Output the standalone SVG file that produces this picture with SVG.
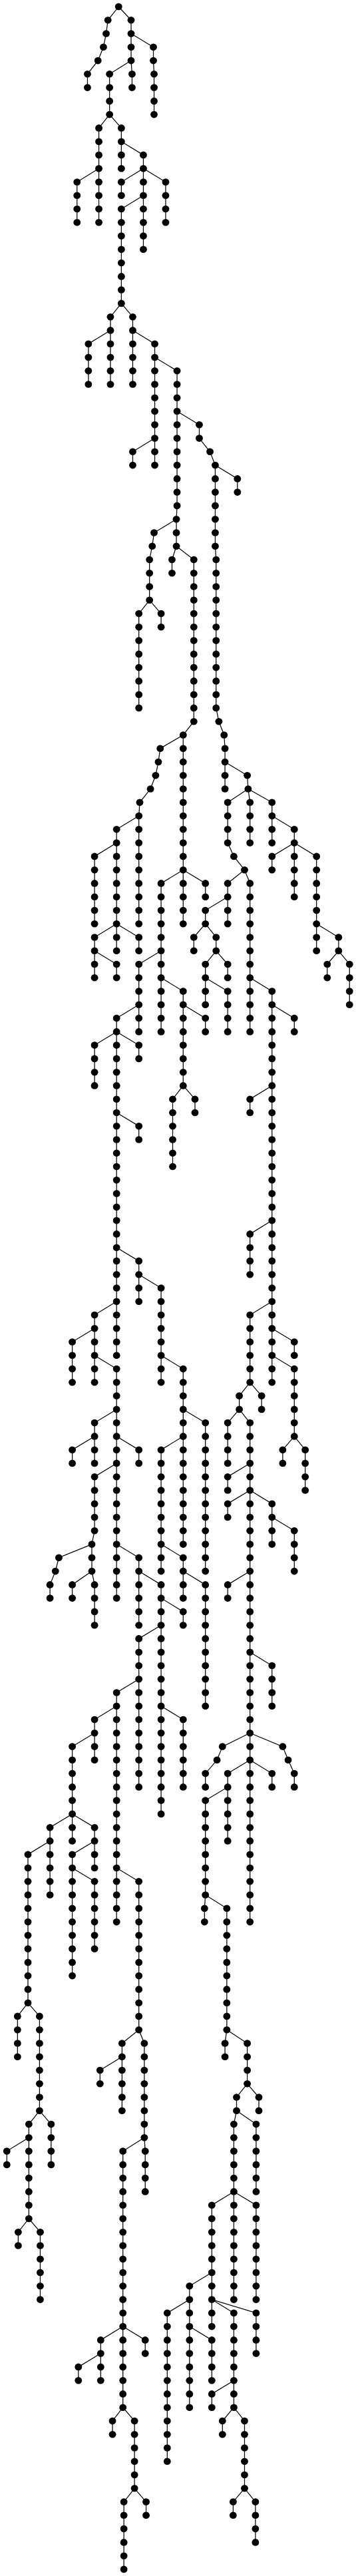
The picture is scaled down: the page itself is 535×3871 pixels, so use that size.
<svg xmlns="http://www.w3.org/2000/svg" width="535" height="3871" viewBox="0 0 535 3871">
<style>
circle{r:5.3px;fill:#000}
#connectors path{fill:none;stroke:#000;stroke-width:1.2}
</style>
<rect width="535" height="3871" fill="#fff"/>
<g id="connectors" transform="scale(1.0245 1)">
<path d="M174 10L158.3 30.3L155.7 50.5L151.7 70.8L143.7 91.1L128.3 111.3V131.6"/>
<path d="M174 10L192.3 30.3V91.1"/>
<path d="M192.3 50.5L225 70.8V91.1L226 111.3V172.1"/>
<path d="M192.3 91.1L193.7 111.3V131.6"/>
<path d="M192.3 91.1L160.7 111.3V172.1"/>
<path d="M160.7 172.1L145 192.4V334.3"/>
<path d="M145 253.2L113 273.5V334.3"/>
<path d="M160.7 172.1L178 192.4V253.2"/>
<path d="M178 212.7L210.3 232.9V374.8"/>
<path d="M210.3 253.2L178 273.5V293.8"/>
<path d="M210.3 253.2L243 273.5V334.3"/>
<path d="M210.3 293.8L178 314V455.9"/>
<path d="M178 455.9L162 476.2V577.5"/>
<path d="M162 496.4L129.7 516.7V577.5"/>
<path d="M178 455.9L194.7 476.2V577.5"/>
<path d="M194.7 496.4L227 516.7V699.1"/>
<path d="M227 658.6L194.7 678.8V699.1"/>
<path d="M227 537L259.7 557.2V759.9L258.7 780.2V820.7"/>
<path d="M258.7 780.2L226 800.5L223.3 820.7L219.3 841V901.8"/>
<path d="M219.3 901.8L203.7 922.1V1063.9"/>
<path d="M219.3 901.8L236.3 922.1V942.3"/>
<path d="M258.7 820.7L252.3 841V861.3"/>
<path d="M258.7 820.7L284.3 841V1084.2L268.7 1104.5V1388.2"/>
<path d="M259.7 618L292.3 638.3V658.6L308 678.8L315.7 699.1V820.7L317 841V1063.9L321 1084.2L328.7 1104.5L330 1124.7V1185.5"/>
<path d="M315.7 699.1L348.3 719.4V739.6"/>
<path d="M330 1145L362.7 1165.3L364 1185.5"/>
<path d="M364 1185.5L334 1205.8V1266.6L343 1286.9L358.7 1307.2"/>
<path d="M364 1185.5L366.7 1205.8V1266.6"/>
<path d="M364 1185.5L399 1205.8V1266.6"/>
<path d="M399 1226.1L431.7 1246.3V1266.6"/>
<path d="M431.7 1266.6L399 1286.9V1307.2"/>
<path d="M431.7 1266.6V1347.7"/>
<path d="M431.7 1266.6L464.3 1286.9V1428.8"/>
<path d="M464.3 1388.2L496.7 1408.5V1428.8"/>
<path d="M496.7 1428.8L480 1449V1469.3"/>
<path d="M496.7 1428.8L512.7 1449V1509.8"/>
<path d="M358.7 1307.2L334 1327.4V1388.2"/>
<path d="M334 1347.7L301.3 1368V1388.2"/>
<path d="M301.3 1388.2L284.3 1408.5V1428.8"/>
<path d="M301.3 1388.2L317 1408.5V1428.8"/>
<path d="M317 1428.8L334 1449V1469.3"/>
<path d="M317 1428.8L301.3 1449V1509.8"/>
<path d="M301.3 1469.3L334 1489.6V1550.4"/>
<path d="M358.7 1307.2L366.7 1327.4V1550.4"/>
<path d="M366.7 1469.3L399 1489.6V2077.3"/>
<path d="M399 1509.8L431.7 1530.1V1550.4"/>
<path d="M399 1631.4L366.7 1651.7V1672"/>
<path d="M399 1834.1L366.7 1854.4V1915.2"/>
<path d="M399 1955.7L366.7 1976V2077.3"/>
<path d="M399 1996.3L431.7 2016.5V2036.8"/>
<path d="M399 2036.8L431.7 2057.1V2158.4"/>
<path d="M431.7 2158.4L414.7 2178.7V2198.9"/>
<path d="M431.7 2158.4L447.7 2178.7V2239.5"/>
<path d="M366.7 2077.3L383.7 2097.6V2117.9"/>
<path d="M366.7 2077.3L351 2097.6V2117.9"/>
<path d="M351 2117.9L334 2138.1V2198.9"/>
<path d="M351 2117.9L366.7 2138.1V2888.1"/>
<path d="M366.7 2198.9L334 2219.2V2239.5"/>
<path d="M366.7 2239.5L334 2259.7V2280"/>
<path d="M366.7 2239.5L399 2259.7V2320.6"/>
<path d="M399 2280L431.7 2300.3V2361.1"/>
<path d="M366.7 2361.1L334 2381.4V2401.6"/>
<path d="M366.7 2482.7L399 2503V2563.8"/>
<path d="M366.7 2604.3L326.3 2624.6L318.3 2644.8L301.3 2665.1V2685.4"/>
<path d="M366.7 2604.3L414.7 2624.6L422.7 2644.8L431.7 2665.1V2685.4"/>
<path d="M366.7 2644.8L399 2665.1V2685.4"/>
<path d="M366.7 2644.8L334 2665.1V2766.4"/>
<path d="M334 2685.4L301.3 2705.6V2847.5"/>
<path d="M301.3 2847.5L300 2867.8V2888.1"/>
<path d="M301.3 2847.5L332.7 2867.8V3050.2"/>
<path d="M332.7 3050.2L330 3070.5V3090.7"/>
<path d="M332.7 3050.2L362.7 3070.5V3131.3"/>
<path d="M362.7 3131.3L379.7 3151.5V3171.8"/>
<path d="M362.7 3131.3L347 3151.5V3171.8"/>
<path d="M347 3171.8L375.7 3192.1V3293.4"/>
<path d="M347 3171.8L343 3192.1V3455.6"/>
<path d="M343 3293.4L375.7 3313.7V3455.6"/>
<path d="M343 3293.4L310.7 3313.7V3496.1"/>
<path d="M310.7 3415L278 3435.3V3617.7"/>
<path d="M278 3455.6L245.3 3475.8V3698.8"/>
<path d="M278 3496.1L310.7 3516.4V3577.2"/>
<path d="M310.7 3455.6L375.7 3475.8V3536.6"/>
<path d="M310.7 3455.6L343 3475.8V3617.7"/>
<path d="M343 3577.2L310.7 3597.4V3617.7"/>
<path d="M343 3617.7L326.3 3638V3658.2"/>
<path d="M343 3617.7L358.7 3638V3739.3"/>
<path d="M358.7 3739.3L342 3759.6V3779.8"/>
<path d="M358.7 3739.3L374.7 3759.6V3820.4"/>
<path d="M268.7 1104.5L235 1124.7L232.3 1145L228.3 1165.3L220.7 1185.5L205 1205.8L203.7 1226.1V1388.2"/>
<path d="M203.7 1226.1L171 1246.3V1428.8"/>
<path d="M171 1266.6L138.7 1286.9V1388.2"/>
<path d="M171 1388.2L203.7 1408.5V1428.8"/>
<path d="M171 1388.2L138.7 1408.5V1469.3"/>
<path d="M138.7 1428.8L171 1449V1469.3"/>
<path d="M268.7 1307.2L301.3 1327.4V1347.7"/>
<path d="M268.7 1307.2L236.3 1327.4V1550.4"/>
<path d="M236.3 1428.8L203.7 1449V1550.4"/>
<path d="M236.3 1469.3L268.7 1489.6V1631.4"/>
<path d="M268.7 1509.8L301.3 1530.1V1550.4"/>
<path d="M268.7 1631.4L253.3 1651.7V1753"/>
<path d="M268.7 1631.4L286 1651.7V1672"/>
<path d="M203.7 1509.8L171 1530.1V2036.8"/>
<path d="M171 1550.4L138.7 1570.6V1631.4"/>
<path d="M171 1550.4L203.7 1570.6V1590.9"/>
<path d="M171 1672L203.7 1692.2V1712.5"/>
<path d="M171 1874.7L203.7 1894.9V1955.7"/>
<path d="M203.7 1915.2L236.3 1935.5V2077.3"/>
<path d="M236.3 2036.8L268.7 2057.1V2320.6"/>
<path d="M268.7 2117.9L301.3 2138.1V2361.1"/>
<path d="M268.7 2158.4L236.3 2178.7V2361.1"/>
<path d="M236.3 2320.6L268.7 2340.8V2401.6"/>
<path d="M268.7 2361.1L301.3 2381.4V2563.8"/>
<path d="M171 1955.7L138.7 1976V2077.3"/>
<path d="M138.7 1996.3L106 2016.5V2077.3"/>
<path d="M138.7 2036.8L171 2057.1V2401.6"/>
<path d="M171 2117.9L138.7 2138.1V2198.9"/>
<path d="M138.7 2158.4L106 2178.7V2198.9"/>
<path d="M171 2158.4L203.7 2178.7V2198.9"/>
<path d="M171 2198.9L138.7 2219.2V2300.3L134.7 2320.6V2361.1"/>
<path d="M134.7 2320.6L86.3 2340.8L81.3 2361.1L73.3 2381.4V2401.6"/>
<path d="M134.7 2361.1L106 2381.4V2401.6"/>
<path d="M134.7 2361.1L138.7 2381.4V2442.2"/>
<path d="M171 2320.6L203.7 2340.8V2442.2"/>
<path d="M203.7 2361.1L236.3 2381.4V2725.9"/>
<path d="M236.3 2401.6L268.7 2421.9V2442.2"/>
<path d="M236.3 2442.2L203.7 2462.4V2685.4"/>
<path d="M236.3 2563.8L268.7 2584V2685.4"/>
<path d="M203.7 2523.2L171 2543.5V2888.1"/>
<path d="M171 2563.8L138.7 2584V2644.8"/>
<path d="M138.7 2604.3L106 2624.6V2766.4"/>
<path d="M106 2725.9L73.3 2746.2V2847.5"/>
<path d="M73.3 2766.4L41 2786.7V3009.7"/>
<path d="M41 3009.7L25.7 3029.9V3090.7"/>
<path d="M41 3009.7L58 3029.9V3171.8"/>
<path d="M58 3171.8L75 3192.1V3252.9"/>
<path d="M58 3171.8L42.3 3192.1V3334"/>
<path d="M42.3 3212.3L10 3232.6V3252.9"/>
<path d="M42.3 3334L26.7 3354.2V3374.5"/>
<path d="M42.3 3334L59 3354.2V3455.6"/>
<path d="M106 2725.9L138.7 2746.2V2807"/>
<path d="M138.7 2766.4L106 2786.7V2969.1"/>
<path d="M106 2807L138.7 2827.3V2928.6"/>
<path d="M171 2807L203.7 2827.3V3050.2"/>
<path d="M203.7 3050.2L179 3070.5V3171.8"/>
<path d="M179 3090.7L146.7 3111V3131.3"/>
<path d="M203.7 3050.2L211.7 3070.5V3212.3"/>
<path d="M211.7 3212.3L213 3232.6V3293.4"/>
<path d="M211.7 3212.3L180.3 3232.6V3617.7"/>
<path d="M180.3 3496.1L213 3516.4V3536.6"/>
<path d="M180.3 3496.1L147.7 3516.4V3577.2"/>
<path d="M147.7 3536.6L115 3556.9V3577.2"/>
<path d="M180.3 3617.7L165 3638V3658.2"/>
<path d="M180.3 3617.7L197.3 3638V3739.3"/>
<path d="M197.3 3739.3L214.3 3759.6V3779.8"/>
<path d="M197.3 3739.3L181.7 3759.6V3860.9"/>
</g>
<g id="nodes" transform="scale(1.0245 1)">
<g id="n0_174"><circle cx="174" cy="10"/></g>
<g id="n1_158"><circle cx="158.3" cy="30.3"/></g>
<g id="n2_155"><circle cx="155.7" cy="50.5"/></g>
<g id="n3_151"><circle cx="151.7" cy="70.8"/></g>
<g id="n4_143"><circle cx="143.7" cy="91.1"/></g>
<g id="n5_128"><circle cx="128.3" cy="111.3"/></g>
<g id="n6_128"><circle cx="128.3" cy="131.6"/></g>
<g id="n1_192"><circle cx="192.3" cy="30.3"/></g>
<g id="n2_192"><circle cx="192.3" cy="50.5"/></g>
<g id="n3_192"><circle cx="192.3" cy="70.8"/></g>
<g id="n4_192"><circle cx="192.3" cy="91.1"/></g>
<g id="n3_225"><circle cx="225" cy="70.8"/></g>
<g id="n4_225"><circle cx="225" cy="91.1"/></g>
<g id="n5_226"><circle cx="226" cy="111.3"/></g>
<g id="n6_226"><circle cx="226" cy="131.6"/></g>
<g id="n7_226"><circle cx="226" cy="151.9"/></g>
<g id="n8_226"><circle cx="226" cy="172.1"/></g>
<g id="n5_193"><circle cx="193.7" cy="111.3"/></g>
<g id="n6_193"><circle cx="193.7" cy="131.6"/></g>
<g id="n5_160"><circle cx="160.7" cy="111.3"/></g>
<g id="n6_160"><circle cx="160.7" cy="131.6"/></g>
<g id="n7_160"><circle cx="160.7" cy="151.9"/></g>
<g id="n8_160"><circle cx="160.7" cy="172.1"/></g>
<g id="n9_145"><circle cx="145" cy="192.4"/></g>
<g id="n10_145"><circle cx="145" cy="212.7"/></g>
<g id="n11_145"><circle cx="145" cy="232.9"/></g>
<g id="n12_145"><circle cx="145" cy="253.2"/></g>
<g id="n13_145"><circle cx="145" cy="273.5"/></g>
<g id="n14_145"><circle cx="145" cy="293.8"/></g>
<g id="n15_145"><circle cx="145" cy="314"/></g>
<g id="n16_145"><circle cx="145" cy="334.3"/></g>
<g id="n13_113"><circle cx="113" cy="273.5"/></g>
<g id="n14_113"><circle cx="113" cy="293.8"/></g>
<g id="n15_113"><circle cx="113" cy="314"/></g>
<g id="n16_113"><circle cx="113" cy="334.3"/></g>
<g id="n9_178"><circle cx="178" cy="192.4"/></g>
<g id="n10_178"><circle cx="178" cy="212.7"/></g>
<g id="n11_178"><circle cx="178" cy="232.9"/></g>
<g id="n12_178"><circle cx="178" cy="253.2"/></g>
<g id="n11_210"><circle cx="210.3" cy="232.9"/></g>
<g id="n12_210"><circle cx="210.3" cy="253.2"/></g>
<g id="n13_210"><circle cx="210.3" cy="273.5"/></g>
<g id="n14_210"><circle cx="210.3" cy="293.8"/></g>
<g id="n15_210"><circle cx="210.3" cy="314"/></g>
<g id="n16_210"><circle cx="210.3" cy="334.3"/></g>
<g id="n17_210"><circle cx="210.3" cy="354.6"/></g>
<g id="n18_210"><circle cx="210.3" cy="374.8"/></g>
<g id="n13_178"><circle cx="178" cy="273.5"/></g>
<g id="n14_178"><circle cx="178" cy="293.8"/></g>
<g id="n13_243"><circle cx="243" cy="273.5"/></g>
<g id="n14_243"><circle cx="243" cy="293.8"/></g>
<g id="n15_243"><circle cx="243" cy="314"/></g>
<g id="n16_243"><circle cx="243" cy="334.3"/></g>
<g id="n15_178"><circle cx="178" cy="314"/></g>
<g id="n16_178"><circle cx="178" cy="334.3"/></g>
<g id="n17_178"><circle cx="178" cy="354.6"/></g>
<g id="n18_178"><circle cx="178" cy="374.8"/></g>
<g id="n19_178"><circle cx="178" cy="395.1"/></g>
<g id="n20_178"><circle cx="178" cy="415.4"/></g>
<g id="n21_178"><circle cx="178" cy="435.6"/></g>
<g id="n22_178"><circle cx="178" cy="455.9"/></g>
<g id="n23_162"><circle cx="162" cy="476.2"/></g>
<g id="n24_162"><circle cx="162" cy="496.4"/></g>
<g id="n25_162"><circle cx="162" cy="516.7"/></g>
<g id="n26_162"><circle cx="162" cy="537"/></g>
<g id="n27_162"><circle cx="162" cy="557.2"/></g>
<g id="n28_162"><circle cx="162" cy="577.5"/></g>
<g id="n25_129"><circle cx="129.7" cy="516.7"/></g>
<g id="n26_129"><circle cx="129.7" cy="537"/></g>
<g id="n27_129"><circle cx="129.7" cy="557.2"/></g>
<g id="n28_129"><circle cx="129.7" cy="577.5"/></g>
<g id="n23_194"><circle cx="194.7" cy="476.2"/></g>
<g id="n24_194"><circle cx="194.7" cy="496.4"/></g>
<g id="n25_194"><circle cx="194.7" cy="516.7"/></g>
<g id="n26_194"><circle cx="194.7" cy="537"/></g>
<g id="n27_194"><circle cx="194.7" cy="557.2"/></g>
<g id="n28_194"><circle cx="194.7" cy="577.5"/></g>
<g id="n25_227"><circle cx="227" cy="516.7"/></g>
<g id="n26_227"><circle cx="227" cy="537"/></g>
<g id="n27_227"><circle cx="227" cy="557.2"/></g>
<g id="n28_227"><circle cx="227" cy="577.5"/></g>
<g id="n29_227"><circle cx="227" cy="597.8"/></g>
<g id="n30_227"><circle cx="227" cy="618"/></g>
<g id="n31_227"><circle cx="227" cy="638.3"/></g>
<g id="n32_227"><circle cx="227" cy="658.6"/></g>
<g id="n33_227"><circle cx="227" cy="678.8"/></g>
<g id="n34_227"><circle cx="227" cy="699.1"/></g>
<g id="n33_194"><circle cx="194.7" cy="678.8"/></g>
<g id="n34_194"><circle cx="194.7" cy="699.1"/></g>
<g id="n27_259"><circle cx="259.7" cy="557.2"/></g>
<g id="n28_259"><circle cx="259.7" cy="577.5"/></g>
<g id="n29_259"><circle cx="259.7" cy="597.8"/></g>
<g id="n30_259"><circle cx="259.7" cy="618"/></g>
<g id="n31_259"><circle cx="259.7" cy="638.3"/></g>
<g id="n32_259"><circle cx="259.7" cy="658.6"/></g>
<g id="n33_259"><circle cx="259.7" cy="678.8"/></g>
<g id="n34_259"><circle cx="259.7" cy="699.1"/></g>
<g id="n35_259"><circle cx="259.7" cy="719.4"/></g>
<g id="n36_259"><circle cx="259.7" cy="739.6"/></g>
<g id="n37_259"><circle cx="259.7" cy="759.9"/></g>
<g id="n38_258"><circle cx="258.7" cy="780.2"/></g>
<g id="n39_258"><circle cx="258.7" cy="800.5"/></g>
<g id="n40_258"><circle cx="258.7" cy="820.7"/></g>
<g id="n39_226"><circle cx="226" cy="800.5"/></g>
<g id="n40_223"><circle cx="223.3" cy="820.7"/></g>
<g id="n41_219"><circle cx="219.3" cy="841"/></g>
<g id="n42_219"><circle cx="219.3" cy="861.3"/></g>
<g id="n43_219"><circle cx="219.3" cy="881.5"/></g>
<g id="n44_219"><circle cx="219.3" cy="901.8"/></g>
<g id="n45_203"><circle cx="203.7" cy="922.1"/></g>
<g id="n46_203"><circle cx="203.7" cy="942.3"/></g>
<g id="n47_203"><circle cx="203.7" cy="962.6"/></g>
<g id="n48_203"><circle cx="203.7" cy="982.9"/></g>
<g id="n49_203"><circle cx="203.7" cy="1003.1"/></g>
<g id="n50_203"><circle cx="203.7" cy="1023.4"/></g>
<g id="n51_203"><circle cx="203.7" cy="1043.7"/></g>
<g id="n52_203"><circle cx="203.7" cy="1063.9"/></g>
<g id="n45_236"><circle cx="236.3" cy="922.1"/></g>
<g id="n46_236"><circle cx="236.3" cy="942.3"/></g>
<g id="n41_252"><circle cx="252.3" cy="841"/></g>
<g id="n42_252"><circle cx="252.3" cy="861.3"/></g>
<g id="n41_284"><circle cx="284.3" cy="841"/></g>
<g id="n42_284"><circle cx="284.3" cy="861.3"/></g>
<g id="n43_284"><circle cx="284.3" cy="881.5"/></g>
<g id="n44_284"><circle cx="284.3" cy="901.8"/></g>
<g id="n45_284"><circle cx="284.3" cy="922.1"/></g>
<g id="n46_284"><circle cx="284.3" cy="942.3"/></g>
<g id="n47_284"><circle cx="284.3" cy="962.6"/></g>
<g id="n48_284"><circle cx="284.3" cy="982.9"/></g>
<g id="n49_284"><circle cx="284.3" cy="1003.1"/></g>
<g id="n50_284"><circle cx="284.3" cy="1023.4"/></g>
<g id="n51_284"><circle cx="284.3" cy="1043.7"/></g>
<g id="n52_284"><circle cx="284.3" cy="1063.9"/></g>
<g id="n53_284"><circle cx="284.3" cy="1084.2"/></g>
<g id="n54_268"><circle cx="268.7" cy="1104.5"/></g>
<g id="n55_268"><circle cx="268.7" cy="1124.7"/></g>
<g id="n56_268"><circle cx="268.7" cy="1145"/></g>
<g id="n57_268"><circle cx="268.7" cy="1165.3"/></g>
<g id="n58_268"><circle cx="268.7" cy="1185.5"/></g>
<g id="n59_268"><circle cx="268.7" cy="1205.8"/></g>
<g id="n60_268"><circle cx="268.7" cy="1226.1"/></g>
<g id="n61_268"><circle cx="268.7" cy="1246.3"/></g>
<g id="n62_268"><circle cx="268.7" cy="1266.6"/></g>
<g id="n63_268"><circle cx="268.7" cy="1286.9"/></g>
<g id="n64_268"><circle cx="268.7" cy="1307.2"/></g>
<g id="n65_268"><circle cx="268.7" cy="1327.4"/></g>
<g id="n66_268"><circle cx="268.7" cy="1347.7"/></g>
<g id="n67_268"><circle cx="268.7" cy="1368"/></g>
<g id="n68_268"><circle cx="268.7" cy="1388.2"/></g>
<g id="n31_292"><circle cx="292.3" cy="638.3"/></g>
<g id="n32_292"><circle cx="292.3" cy="658.6"/></g>
<g id="n33_308"><circle cx="308" cy="678.8"/></g>
<g id="n34_315"><circle cx="315.7" cy="699.1"/></g>
<g id="n35_315"><circle cx="315.7" cy="719.4"/></g>
<g id="n36_315"><circle cx="315.7" cy="739.6"/></g>
<g id="n37_315"><circle cx="315.7" cy="759.9"/></g>
<g id="n38_315"><circle cx="315.7" cy="780.2"/></g>
<g id="n39_315"><circle cx="315.7" cy="800.5"/></g>
<g id="n40_315"><circle cx="315.7" cy="820.7"/></g>
<g id="n41_317"><circle cx="317" cy="841"/></g>
<g id="n42_317"><circle cx="317" cy="861.3"/></g>
<g id="n43_317"><circle cx="317" cy="881.5"/></g>
<g id="n44_317"><circle cx="317" cy="901.8"/></g>
<g id="n45_317"><circle cx="317" cy="922.1"/></g>
<g id="n46_317"><circle cx="317" cy="942.3"/></g>
<g id="n47_317"><circle cx="317" cy="962.6"/></g>
<g id="n48_317"><circle cx="317" cy="982.9"/></g>
<g id="n49_317"><circle cx="317" cy="1003.1"/></g>
<g id="n50_317"><circle cx="317" cy="1023.4"/></g>
<g id="n51_317"><circle cx="317" cy="1043.7"/></g>
<g id="n52_317"><circle cx="317" cy="1063.9"/></g>
<g id="n53_321"><circle cx="321" cy="1084.2"/></g>
<g id="n54_328"><circle cx="328.7" cy="1104.5"/></g>
<g id="n55_330"><circle cx="330" cy="1124.7"/></g>
<g id="n56_330"><circle cx="330" cy="1145"/></g>
<g id="n57_330"><circle cx="330" cy="1165.3"/></g>
<g id="n58_330"><circle cx="330" cy="1185.5"/></g>
<g id="n35_348"><circle cx="348.3" cy="719.4"/></g>
<g id="n36_348"><circle cx="348.3" cy="739.6"/></g>
<g id="n57_362"><circle cx="362.7" cy="1165.3"/></g>
<g id="n58_364"><circle cx="364" cy="1185.5"/></g>
<g id="n59_334"><circle cx="334" cy="1205.8"/></g>
<g id="n60_334"><circle cx="334" cy="1226.1"/></g>
<g id="n61_334"><circle cx="334" cy="1246.3"/></g>
<g id="n62_334"><circle cx="334" cy="1266.6"/></g>
<g id="n63_343"><circle cx="343" cy="1286.9"/></g>
<g id="n64_358"><circle cx="358.7" cy="1307.2"/></g>
<g id="n59_366"><circle cx="366.7" cy="1205.8"/></g>
<g id="n60_366"><circle cx="366.7" cy="1226.1"/></g>
<g id="n61_366"><circle cx="366.7" cy="1246.3"/></g>
<g id="n62_366"><circle cx="366.7" cy="1266.6"/></g>
<g id="n59_399"><circle cx="399" cy="1205.8"/></g>
<g id="n60_399"><circle cx="399" cy="1226.1"/></g>
<g id="n61_399"><circle cx="399" cy="1246.3"/></g>
<g id="n62_399"><circle cx="399" cy="1266.6"/></g>
<g id="n61_431"><circle cx="431.7" cy="1246.3"/></g>
<g id="n62_431"><circle cx="431.7" cy="1266.6"/></g>
<g id="n63_399"><circle cx="399" cy="1286.9"/></g>
<g id="n64_399"><circle cx="399" cy="1307.2"/></g>
<g id="n63_431"><circle cx="431.7" cy="1286.9"/></g>
<g id="n64_431"><circle cx="431.7" cy="1307.2"/></g>
<g id="n65_431"><circle cx="431.7" cy="1327.4"/></g>
<g id="n66_431"><circle cx="431.7" cy="1347.7"/></g>
<g id="n63_464"><circle cx="464.3" cy="1286.9"/></g>
<g id="n64_464"><circle cx="464.3" cy="1307.2"/></g>
<g id="n65_464"><circle cx="464.3" cy="1327.4"/></g>
<g id="n66_464"><circle cx="464.3" cy="1347.7"/></g>
<g id="n67_464"><circle cx="464.3" cy="1368"/></g>
<g id="n68_464"><circle cx="464.3" cy="1388.2"/></g>
<g id="n69_464"><circle cx="464.3" cy="1408.5"/></g>
<g id="n70_464"><circle cx="464.3" cy="1428.8"/></g>
<g id="n69_496"><circle cx="496.7" cy="1408.5"/></g>
<g id="n70_496"><circle cx="496.7" cy="1428.8"/></g>
<g id="n71_480"><circle cx="480" cy="1449"/></g>
<g id="n72_480"><circle cx="480" cy="1469.3"/></g>
<g id="n71_512"><circle cx="512.7" cy="1449"/></g>
<g id="n72_512"><circle cx="512.7" cy="1469.3"/></g>
<g id="n73_512"><circle cx="512.7" cy="1489.6"/></g>
<g id="n74_512"><circle cx="512.7" cy="1509.8"/></g>
<g id="n65_334"><circle cx="334" cy="1327.4"/></g>
<g id="n66_334"><circle cx="334" cy="1347.7"/></g>
<g id="n67_334"><circle cx="334" cy="1368"/></g>
<g id="n68_334"><circle cx="334" cy="1388.2"/></g>
<g id="n67_301"><circle cx="301.3" cy="1368"/></g>
<g id="n68_301"><circle cx="301.3" cy="1388.2"/></g>
<g id="n69_284"><circle cx="284.3" cy="1408.5"/></g>
<g id="n70_284"><circle cx="284.3" cy="1428.8"/></g>
<g id="n69_317"><circle cx="317" cy="1408.5"/></g>
<g id="n70_317"><circle cx="317" cy="1428.8"/></g>
<g id="n71_334"><circle cx="334" cy="1449"/></g>
<g id="n72_334"><circle cx="334" cy="1469.3"/></g>
<g id="n71_301"><circle cx="301.3" cy="1449"/></g>
<g id="n72_301"><circle cx="301.3" cy="1469.3"/></g>
<g id="n73_301"><circle cx="301.3" cy="1489.6"/></g>
<g id="n74_301"><circle cx="301.3" cy="1509.8"/></g>
<g id="n73_334"><circle cx="334" cy="1489.6"/></g>
<g id="n74_334"><circle cx="334" cy="1509.8"/></g>
<g id="n75_334"><circle cx="334" cy="1530.1"/></g>
<g id="n76_334"><circle cx="334" cy="1550.4"/></g>
<g id="n65_366"><circle cx="366.7" cy="1327.4"/></g>
<g id="n66_366"><circle cx="366.7" cy="1347.7"/></g>
<g id="n67_366"><circle cx="366.7" cy="1368"/></g>
<g id="n68_366"><circle cx="366.7" cy="1388.2"/></g>
<g id="n69_366"><circle cx="366.7" cy="1408.5"/></g>
<g id="n70_366"><circle cx="366.7" cy="1428.8"/></g>
<g id="n71_366"><circle cx="366.7" cy="1449"/></g>
<g id="n72_366"><circle cx="366.7" cy="1469.3"/></g>
<g id="n73_366"><circle cx="366.7" cy="1489.6"/></g>
<g id="n74_366"><circle cx="366.7" cy="1509.8"/></g>
<g id="n75_366"><circle cx="366.7" cy="1530.1"/></g>
<g id="n76_366"><circle cx="366.7" cy="1550.4"/></g>
<g id="n73_399"><circle cx="399" cy="1489.6"/></g>
<g id="n74_399"><circle cx="399" cy="1509.8"/></g>
<g id="n75_399"><circle cx="399" cy="1530.1"/></g>
<g id="n76_399"><circle cx="399" cy="1550.4"/></g>
<g id="n77_399"><circle cx="399" cy="1570.6"/></g>
<g id="n78_399"><circle cx="399" cy="1590.9"/></g>
<g id="n79_399"><circle cx="399" cy="1611.2"/></g>
<g id="n80_399"><circle cx="399" cy="1631.4"/></g>
<g id="n81_399"><circle cx="399" cy="1651.7"/></g>
<g id="n82_399"><circle cx="399" cy="1672"/></g>
<g id="n83_399"><circle cx="399" cy="1692.2"/></g>
<g id="n84_399"><circle cx="399" cy="1712.5"/></g>
<g id="n85_399"><circle cx="399" cy="1732.8"/></g>
<g id="n86_399"><circle cx="399" cy="1753"/></g>
<g id="n87_399"><circle cx="399" cy="1773.3"/></g>
<g id="n88_399"><circle cx="399" cy="1793.6"/></g>
<g id="n89_399"><circle cx="399" cy="1813.9"/></g>
<g id="n90_399"><circle cx="399" cy="1834.1"/></g>
<g id="n91_399"><circle cx="399" cy="1854.4"/></g>
<g id="n92_399"><circle cx="399" cy="1874.7"/></g>
<g id="n93_399"><circle cx="399" cy="1894.9"/></g>
<g id="n94_399"><circle cx="399" cy="1915.2"/></g>
<g id="n95_399"><circle cx="399" cy="1935.5"/></g>
<g id="n96_399"><circle cx="399" cy="1955.7"/></g>
<g id="n97_399"><circle cx="399" cy="1976"/></g>
<g id="n98_399"><circle cx="399" cy="1996.3"/></g>
<g id="n99_399"><circle cx="399" cy="2016.5"/></g>
<g id="n100_399"><circle cx="399" cy="2036.8"/></g>
<g id="n101_399"><circle cx="399" cy="2057.1"/></g>
<g id="n102_399"><circle cx="399" cy="2077.3"/></g>
<g id="n75_431"><circle cx="431.7" cy="1530.1"/></g>
<g id="n76_431"><circle cx="431.7" cy="1550.4"/></g>
<g id="n81_366"><circle cx="366.7" cy="1651.7"/></g>
<g id="n82_366"><circle cx="366.7" cy="1672"/></g>
<g id="n91_366"><circle cx="366.7" cy="1854.4"/></g>
<g id="n92_366"><circle cx="366.7" cy="1874.7"/></g>
<g id="n93_366"><circle cx="366.7" cy="1894.9"/></g>
<g id="n94_366"><circle cx="366.7" cy="1915.2"/></g>
<g id="n97_366"><circle cx="366.7" cy="1976"/></g>
<g id="n98_366"><circle cx="366.7" cy="1996.3"/></g>
<g id="n99_366"><circle cx="366.7" cy="2016.5"/></g>
<g id="n100_366"><circle cx="366.7" cy="2036.8"/></g>
<g id="n101_366"><circle cx="366.7" cy="2057.1"/></g>
<g id="n102_366"><circle cx="366.7" cy="2077.3"/></g>
<g id="n99_431"><circle cx="431.7" cy="2016.5"/></g>
<g id="n100_431"><circle cx="431.7" cy="2036.8"/></g>
<g id="n101_431"><circle cx="431.7" cy="2057.1"/></g>
<g id="n102_431"><circle cx="431.7" cy="2077.3"/></g>
<g id="n103_431"><circle cx="431.7" cy="2097.6"/></g>
<g id="n104_431"><circle cx="431.7" cy="2117.9"/></g>
<g id="n105_431"><circle cx="431.7" cy="2138.1"/></g>
<g id="n106_431"><circle cx="431.7" cy="2158.4"/></g>
<g id="n107_414"><circle cx="414.7" cy="2178.7"/></g>
<g id="n108_414"><circle cx="414.7" cy="2198.9"/></g>
<g id="n107_447"><circle cx="447.7" cy="2178.7"/></g>
<g id="n108_447"><circle cx="447.7" cy="2198.9"/></g>
<g id="n109_447"><circle cx="447.7" cy="2219.2"/></g>
<g id="n110_447"><circle cx="447.7" cy="2239.5"/></g>
<g id="n103_383"><circle cx="383.7" cy="2097.6"/></g>
<g id="n104_383"><circle cx="383.7" cy="2117.9"/></g>
<g id="n103_351"><circle cx="351" cy="2097.6"/></g>
<g id="n104_351"><circle cx="351" cy="2117.9"/></g>
<g id="n105_334"><circle cx="334" cy="2138.1"/></g>
<g id="n106_334"><circle cx="334" cy="2158.4"/></g>
<g id="n107_334"><circle cx="334" cy="2178.7"/></g>
<g id="n108_334"><circle cx="334" cy="2198.9"/></g>
<g id="n105_366"><circle cx="366.7" cy="2138.1"/></g>
<g id="n106_366"><circle cx="366.7" cy="2158.4"/></g>
<g id="n107_366"><circle cx="366.7" cy="2178.7"/></g>
<g id="n108_366"><circle cx="366.7" cy="2198.9"/></g>
<g id="n109_366"><circle cx="366.7" cy="2219.2"/></g>
<g id="n110_366"><circle cx="366.7" cy="2239.5"/></g>
<g id="n111_366"><circle cx="366.7" cy="2259.7"/></g>
<g id="n112_366"><circle cx="366.7" cy="2280"/></g>
<g id="n113_366"><circle cx="366.7" cy="2300.3"/></g>
<g id="n114_366"><circle cx="366.7" cy="2320.6"/></g>
<g id="n115_366"><circle cx="366.7" cy="2340.8"/></g>
<g id="n116_366"><circle cx="366.7" cy="2361.1"/></g>
<g id="n117_366"><circle cx="366.7" cy="2381.4"/></g>
<g id="n118_366"><circle cx="366.7" cy="2401.6"/></g>
<g id="n119_366"><circle cx="366.7" cy="2421.9"/></g>
<g id="n120_366"><circle cx="366.7" cy="2442.2"/></g>
<g id="n121_366"><circle cx="366.7" cy="2462.4"/></g>
<g id="n122_366"><circle cx="366.7" cy="2482.7"/></g>
<g id="n123_366"><circle cx="366.7" cy="2503"/></g>
<g id="n124_366"><circle cx="366.7" cy="2523.2"/></g>
<g id="n125_366"><circle cx="366.7" cy="2543.5"/></g>
<g id="n126_366"><circle cx="366.7" cy="2563.8"/></g>
<g id="n127_366"><circle cx="366.7" cy="2584"/></g>
<g id="n128_366"><circle cx="366.7" cy="2604.3"/></g>
<g id="n129_366"><circle cx="366.7" cy="2624.6"/></g>
<g id="n130_366"><circle cx="366.7" cy="2644.8"/></g>
<g id="n131_366"><circle cx="366.7" cy="2665.1"/></g>
<g id="n132_366"><circle cx="366.7" cy="2685.4"/></g>
<g id="n133_366"><circle cx="366.7" cy="2705.6"/></g>
<g id="n134_366"><circle cx="366.7" cy="2725.9"/></g>
<g id="n135_366"><circle cx="366.7" cy="2746.2"/></g>
<g id="n136_366"><circle cx="366.7" cy="2766.4"/></g>
<g id="n137_366"><circle cx="366.7" cy="2786.7"/></g>
<g id="n138_366"><circle cx="366.7" cy="2807"/></g>
<g id="n139_366"><circle cx="366.7" cy="2827.3"/></g>
<g id="n140_366"><circle cx="366.7" cy="2847.5"/></g>
<g id="n141_366"><circle cx="366.7" cy="2867.8"/></g>
<g id="n142_366"><circle cx="366.7" cy="2888.1"/></g>
<g id="n109_334"><circle cx="334" cy="2219.2"/></g>
<g id="n110_334"><circle cx="334" cy="2239.5"/></g>
<g id="n111_334"><circle cx="334" cy="2259.7"/></g>
<g id="n112_334"><circle cx="334" cy="2280"/></g>
<g id="n111_399"><circle cx="399" cy="2259.7"/></g>
<g id="n112_399"><circle cx="399" cy="2280"/></g>
<g id="n113_399"><circle cx="399" cy="2300.3"/></g>
<g id="n114_399"><circle cx="399" cy="2320.6"/></g>
<g id="n113_431"><circle cx="431.7" cy="2300.3"/></g>
<g id="n114_431"><circle cx="431.7" cy="2320.6"/></g>
<g id="n115_431"><circle cx="431.7" cy="2340.8"/></g>
<g id="n116_431"><circle cx="431.7" cy="2361.1"/></g>
<g id="n117_334"><circle cx="334" cy="2381.4"/></g>
<g id="n118_334"><circle cx="334" cy="2401.6"/></g>
<g id="n123_399"><circle cx="399" cy="2503"/></g>
<g id="n124_399"><circle cx="399" cy="2523.2"/></g>
<g id="n125_399"><circle cx="399" cy="2543.5"/></g>
<g id="n126_399"><circle cx="399" cy="2563.8"/></g>
<g id="n129_326"><circle cx="326.3" cy="2624.6"/></g>
<g id="n130_318"><circle cx="318.3" cy="2644.8"/></g>
<g id="n131_301"><circle cx="301.3" cy="2665.1"/></g>
<g id="n132_301"><circle cx="301.3" cy="2685.4"/></g>
<g id="n129_414"><circle cx="414.7" cy="2624.6"/></g>
<g id="n130_422"><circle cx="422.7" cy="2644.8"/></g>
<g id="n131_431"><circle cx="431.7" cy="2665.1"/></g>
<g id="n132_431"><circle cx="431.7" cy="2685.4"/></g>
<g id="n131_399"><circle cx="399" cy="2665.1"/></g>
<g id="n132_399"><circle cx="399" cy="2685.4"/></g>
<g id="n131_334"><circle cx="334" cy="2665.1"/></g>
<g id="n132_334"><circle cx="334" cy="2685.4"/></g>
<g id="n133_334"><circle cx="334" cy="2705.6"/></g>
<g id="n134_334"><circle cx="334" cy="2725.9"/></g>
<g id="n135_334"><circle cx="334" cy="2746.2"/></g>
<g id="n136_334"><circle cx="334" cy="2766.4"/></g>
<g id="n133_301"><circle cx="301.3" cy="2705.6"/></g>
<g id="n134_301"><circle cx="301.3" cy="2725.9"/></g>
<g id="n135_301"><circle cx="301.3" cy="2746.2"/></g>
<g id="n136_301"><circle cx="301.3" cy="2766.4"/></g>
<g id="n137_301"><circle cx="301.3" cy="2786.7"/></g>
<g id="n138_301"><circle cx="301.3" cy="2807"/></g>
<g id="n139_301"><circle cx="301.3" cy="2827.3"/></g>
<g id="n140_301"><circle cx="301.3" cy="2847.5"/></g>
<g id="n141_300"><circle cx="300" cy="2867.8"/></g>
<g id="n142_300"><circle cx="300" cy="2888.1"/></g>
<g id="n141_332"><circle cx="332.7" cy="2867.8"/></g>
<g id="n142_332"><circle cx="332.7" cy="2888.1"/></g>
<g id="n143_332"><circle cx="332.7" cy="2908.3"/></g>
<g id="n144_332"><circle cx="332.7" cy="2928.6"/></g>
<g id="n145_332"><circle cx="332.7" cy="2948.9"/></g>
<g id="n146_332"><circle cx="332.7" cy="2969.1"/></g>
<g id="n147_332"><circle cx="332.7" cy="2989.4"/></g>
<g id="n148_332"><circle cx="332.7" cy="3009.7"/></g>
<g id="n149_332"><circle cx="332.7" cy="3029.9"/></g>
<g id="n150_332"><circle cx="332.7" cy="3050.2"/></g>
<g id="n151_330"><circle cx="330" cy="3070.5"/></g>
<g id="n152_330"><circle cx="330" cy="3090.7"/></g>
<g id="n151_362"><circle cx="362.7" cy="3070.5"/></g>
<g id="n152_362"><circle cx="362.7" cy="3090.7"/></g>
<g id="n153_362"><circle cx="362.7" cy="3111"/></g>
<g id="n154_362"><circle cx="362.7" cy="3131.3"/></g>
<g id="n155_379"><circle cx="379.7" cy="3151.5"/></g>
<g id="n156_379"><circle cx="379.7" cy="3171.8"/></g>
<g id="n155_347"><circle cx="347" cy="3151.5"/></g>
<g id="n156_347"><circle cx="347" cy="3171.8"/></g>
<g id="n157_375"><circle cx="375.7" cy="3192.1"/></g>
<g id="n158_375"><circle cx="375.7" cy="3212.3"/></g>
<g id="n159_375"><circle cx="375.7" cy="3232.6"/></g>
<g id="n160_375"><circle cx="375.7" cy="3252.9"/></g>
<g id="n161_375"><circle cx="375.7" cy="3273.1"/></g>
<g id="n162_375"><circle cx="375.7" cy="3293.4"/></g>
<g id="n157_343"><circle cx="343" cy="3192.1"/></g>
<g id="n158_343"><circle cx="343" cy="3212.3"/></g>
<g id="n159_343"><circle cx="343" cy="3232.6"/></g>
<g id="n160_343"><circle cx="343" cy="3252.9"/></g>
<g id="n161_343"><circle cx="343" cy="3273.1"/></g>
<g id="n162_343"><circle cx="343" cy="3293.4"/></g>
<g id="n163_343"><circle cx="343" cy="3313.7"/></g>
<g id="n164_343"><circle cx="343" cy="3334"/></g>
<g id="n165_343"><circle cx="343" cy="3354.2"/></g>
<g id="n166_343"><circle cx="343" cy="3374.5"/></g>
<g id="n167_343"><circle cx="343" cy="3394.8"/></g>
<g id="n168_343"><circle cx="343" cy="3415"/></g>
<g id="n169_343"><circle cx="343" cy="3435.3"/></g>
<g id="n170_343"><circle cx="343" cy="3455.6"/></g>
<g id="n163_375"><circle cx="375.7" cy="3313.7"/></g>
<g id="n164_375"><circle cx="375.7" cy="3334"/></g>
<g id="n165_375"><circle cx="375.7" cy="3354.2"/></g>
<g id="n166_375"><circle cx="375.7" cy="3374.5"/></g>
<g id="n167_375"><circle cx="375.7" cy="3394.8"/></g>
<g id="n168_375"><circle cx="375.7" cy="3415"/></g>
<g id="n169_375"><circle cx="375.7" cy="3435.3"/></g>
<g id="n170_375"><circle cx="375.7" cy="3455.6"/></g>
<g id="n163_310"><circle cx="310.7" cy="3313.7"/></g>
<g id="n164_310"><circle cx="310.7" cy="3334"/></g>
<g id="n165_310"><circle cx="310.7" cy="3354.2"/></g>
<g id="n166_310"><circle cx="310.7" cy="3374.5"/></g>
<g id="n167_310"><circle cx="310.7" cy="3394.8"/></g>
<g id="n168_310"><circle cx="310.7" cy="3415"/></g>
<g id="n169_310"><circle cx="310.7" cy="3435.3"/></g>
<g id="n170_310"><circle cx="310.7" cy="3455.6"/></g>
<g id="n171_310"><circle cx="310.7" cy="3475.8"/></g>
<g id="n172_310"><circle cx="310.7" cy="3496.1"/></g>
<g id="n169_278"><circle cx="278" cy="3435.3"/></g>
<g id="n170_278"><circle cx="278" cy="3455.6"/></g>
<g id="n171_278"><circle cx="278" cy="3475.8"/></g>
<g id="n172_278"><circle cx="278" cy="3496.1"/></g>
<g id="n173_278"><circle cx="278" cy="3516.4"/></g>
<g id="n174_278"><circle cx="278" cy="3536.6"/></g>
<g id="n175_278"><circle cx="278" cy="3556.9"/></g>
<g id="n176_278"><circle cx="278" cy="3577.2"/></g>
<g id="n177_278"><circle cx="278" cy="3597.4"/></g>
<g id="n178_278"><circle cx="278" cy="3617.7"/></g>
<g id="n171_245"><circle cx="245.3" cy="3475.8"/></g>
<g id="n172_245"><circle cx="245.3" cy="3496.1"/></g>
<g id="n173_245"><circle cx="245.3" cy="3516.4"/></g>
<g id="n174_245"><circle cx="245.3" cy="3536.6"/></g>
<g id="n175_245"><circle cx="245.3" cy="3556.9"/></g>
<g id="n176_245"><circle cx="245.3" cy="3577.2"/></g>
<g id="n177_245"><circle cx="245.3" cy="3597.4"/></g>
<g id="n178_245"><circle cx="245.3" cy="3617.7"/></g>
<g id="n179_245"><circle cx="245.3" cy="3638"/></g>
<g id="n180_245"><circle cx="245.3" cy="3658.2"/></g>
<g id="n181_245"><circle cx="245.3" cy="3678.5"/></g>
<g id="n182_245"><circle cx="245.3" cy="3698.8"/></g>
<g id="n173_310"><circle cx="310.7" cy="3516.4"/></g>
<g id="n174_310"><circle cx="310.7" cy="3536.6"/></g>
<g id="n175_310"><circle cx="310.7" cy="3556.9"/></g>
<g id="n176_310"><circle cx="310.7" cy="3577.2"/></g>
<g id="n171_375"><circle cx="375.7" cy="3475.8"/></g>
<g id="n172_375"><circle cx="375.7" cy="3496.1"/></g>
<g id="n173_375"><circle cx="375.7" cy="3516.4"/></g>
<g id="n174_375"><circle cx="375.7" cy="3536.6"/></g>
<g id="n171_343"><circle cx="343" cy="3475.8"/></g>
<g id="n172_343"><circle cx="343" cy="3496.1"/></g>
<g id="n173_343"><circle cx="343" cy="3516.4"/></g>
<g id="n174_343"><circle cx="343" cy="3536.6"/></g>
<g id="n175_343"><circle cx="343" cy="3556.9"/></g>
<g id="n176_343"><circle cx="343" cy="3577.2"/></g>
<g id="n177_343"><circle cx="343" cy="3597.4"/></g>
<g id="n178_343"><circle cx="343" cy="3617.7"/></g>
<g id="n177_310"><circle cx="310.7" cy="3597.4"/></g>
<g id="n178_310"><circle cx="310.7" cy="3617.7"/></g>
<g id="n179_326"><circle cx="326.3" cy="3638"/></g>
<g id="n180_326"><circle cx="326.3" cy="3658.2"/></g>
<g id="n179_358"><circle cx="358.7" cy="3638"/></g>
<g id="n180_358"><circle cx="358.7" cy="3658.2"/></g>
<g id="n181_358"><circle cx="358.7" cy="3678.5"/></g>
<g id="n182_358"><circle cx="358.7" cy="3698.8"/></g>
<g id="n183_358"><circle cx="358.7" cy="3719"/></g>
<g id="n184_358"><circle cx="358.7" cy="3739.3"/></g>
<g id="n185_342"><circle cx="342" cy="3759.6"/></g>
<g id="n186_342"><circle cx="342" cy="3779.8"/></g>
<g id="n185_374"><circle cx="374.7" cy="3759.6"/></g>
<g id="n186_374"><circle cx="374.7" cy="3779.8"/></g>
<g id="n187_374"><circle cx="374.7" cy="3800.1"/></g>
<g id="n188_374"><circle cx="374.7" cy="3820.4"/></g>
<g id="n55_235"><circle cx="235" cy="1124.7"/></g>
<g id="n56_232"><circle cx="232.3" cy="1145"/></g>
<g id="n57_228"><circle cx="228.3" cy="1165.3"/></g>
<g id="n58_220"><circle cx="220.7" cy="1185.5"/></g>
<g id="n59_205"><circle cx="205" cy="1205.8"/></g>
<g id="n60_203"><circle cx="203.7" cy="1226.1"/></g>
<g id="n61_203"><circle cx="203.7" cy="1246.3"/></g>
<g id="n62_203"><circle cx="203.7" cy="1266.6"/></g>
<g id="n63_203"><circle cx="203.7" cy="1286.9"/></g>
<g id="n64_203"><circle cx="203.7" cy="1307.2"/></g>
<g id="n65_203"><circle cx="203.7" cy="1327.4"/></g>
<g id="n66_203"><circle cx="203.7" cy="1347.7"/></g>
<g id="n67_203"><circle cx="203.7" cy="1368"/></g>
<g id="n68_203"><circle cx="203.7" cy="1388.2"/></g>
<g id="n61_171"><circle cx="171" cy="1246.3"/></g>
<g id="n62_171"><circle cx="171" cy="1266.6"/></g>
<g id="n63_171"><circle cx="171" cy="1286.9"/></g>
<g id="n64_171"><circle cx="171" cy="1307.2"/></g>
<g id="n65_171"><circle cx="171" cy="1327.4"/></g>
<g id="n66_171"><circle cx="171" cy="1347.7"/></g>
<g id="n67_171"><circle cx="171" cy="1368"/></g>
<g id="n68_171"><circle cx="171" cy="1388.2"/></g>
<g id="n69_171"><circle cx="171" cy="1408.5"/></g>
<g id="n70_171"><circle cx="171" cy="1428.8"/></g>
<g id="n63_138"><circle cx="138.7" cy="1286.9"/></g>
<g id="n64_138"><circle cx="138.7" cy="1307.2"/></g>
<g id="n65_138"><circle cx="138.7" cy="1327.4"/></g>
<g id="n66_138"><circle cx="138.7" cy="1347.7"/></g>
<g id="n67_138"><circle cx="138.7" cy="1368"/></g>
<g id="n68_138"><circle cx="138.7" cy="1388.2"/></g>
<g id="n69_203"><circle cx="203.7" cy="1408.5"/></g>
<g id="n70_203"><circle cx="203.7" cy="1428.8"/></g>
<g id="n69_138"><circle cx="138.7" cy="1408.5"/></g>
<g id="n70_138"><circle cx="138.7" cy="1428.8"/></g>
<g id="n71_138"><circle cx="138.7" cy="1449"/></g>
<g id="n72_138"><circle cx="138.7" cy="1469.3"/></g>
<g id="n71_171"><circle cx="171" cy="1449"/></g>
<g id="n72_171"><circle cx="171" cy="1469.3"/></g>
<g id="n65_301"><circle cx="301.3" cy="1327.4"/></g>
<g id="n66_301"><circle cx="301.3" cy="1347.7"/></g>
<g id="n65_236"><circle cx="236.3" cy="1327.4"/></g>
<g id="n66_236"><circle cx="236.3" cy="1347.7"/></g>
<g id="n67_236"><circle cx="236.3" cy="1368"/></g>
<g id="n68_236"><circle cx="236.3" cy="1388.2"/></g>
<g id="n69_236"><circle cx="236.3" cy="1408.5"/></g>
<g id="n70_236"><circle cx="236.3" cy="1428.8"/></g>
<g id="n71_236"><circle cx="236.3" cy="1449"/></g>
<g id="n72_236"><circle cx="236.3" cy="1469.3"/></g>
<g id="n73_236"><circle cx="236.3" cy="1489.6"/></g>
<g id="n74_236"><circle cx="236.3" cy="1509.8"/></g>
<g id="n75_236"><circle cx="236.3" cy="1530.1"/></g>
<g id="n76_236"><circle cx="236.3" cy="1550.4"/></g>
<g id="n71_203"><circle cx="203.7" cy="1449"/></g>
<g id="n72_203"><circle cx="203.7" cy="1469.3"/></g>
<g id="n73_203"><circle cx="203.7" cy="1489.6"/></g>
<g id="n74_203"><circle cx="203.7" cy="1509.8"/></g>
<g id="n75_203"><circle cx="203.7" cy="1530.1"/></g>
<g id="n76_203"><circle cx="203.7" cy="1550.4"/></g>
<g id="n73_268"><circle cx="268.7" cy="1489.6"/></g>
<g id="n74_268"><circle cx="268.7" cy="1509.8"/></g>
<g id="n75_268"><circle cx="268.7" cy="1530.1"/></g>
<g id="n76_268"><circle cx="268.7" cy="1550.4"/></g>
<g id="n77_268"><circle cx="268.7" cy="1570.6"/></g>
<g id="n78_268"><circle cx="268.7" cy="1590.9"/></g>
<g id="n79_268"><circle cx="268.7" cy="1611.2"/></g>
<g id="n80_268"><circle cx="268.7" cy="1631.4"/></g>
<g id="n75_301"><circle cx="301.3" cy="1530.1"/></g>
<g id="n76_301"><circle cx="301.3" cy="1550.4"/></g>
<g id="n81_253"><circle cx="253.3" cy="1651.7"/></g>
<g id="n82_253"><circle cx="253.3" cy="1672"/></g>
<g id="n83_253"><circle cx="253.3" cy="1692.2"/></g>
<g id="n84_253"><circle cx="253.3" cy="1712.5"/></g>
<g id="n85_253"><circle cx="253.3" cy="1732.8"/></g>
<g id="n86_253"><circle cx="253.3" cy="1753"/></g>
<g id="n81_286"><circle cx="286" cy="1651.7"/></g>
<g id="n82_286"><circle cx="286" cy="1672"/></g>
<g id="n75_171"><circle cx="171" cy="1530.1"/></g>
<g id="n76_171"><circle cx="171" cy="1550.4"/></g>
<g id="n77_171"><circle cx="171" cy="1570.6"/></g>
<g id="n78_171"><circle cx="171" cy="1590.9"/></g>
<g id="n79_171"><circle cx="171" cy="1611.2"/></g>
<g id="n80_171"><circle cx="171" cy="1631.4"/></g>
<g id="n81_171"><circle cx="171" cy="1651.7"/></g>
<g id="n82_171"><circle cx="171" cy="1672"/></g>
<g id="n83_171"><circle cx="171" cy="1692.2"/></g>
<g id="n84_171"><circle cx="171" cy="1712.5"/></g>
<g id="n85_171"><circle cx="171" cy="1732.8"/></g>
<g id="n86_171"><circle cx="171" cy="1753"/></g>
<g id="n87_171"><circle cx="171" cy="1773.3"/></g>
<g id="n88_171"><circle cx="171" cy="1793.6"/></g>
<g id="n89_171"><circle cx="171" cy="1813.9"/></g>
<g id="n90_171"><circle cx="171" cy="1834.1"/></g>
<g id="n91_171"><circle cx="171" cy="1854.4"/></g>
<g id="n92_171"><circle cx="171" cy="1874.7"/></g>
<g id="n93_171"><circle cx="171" cy="1894.9"/></g>
<g id="n94_171"><circle cx="171" cy="1915.2"/></g>
<g id="n95_171"><circle cx="171" cy="1935.5"/></g>
<g id="n96_171"><circle cx="171" cy="1955.7"/></g>
<g id="n97_171"><circle cx="171" cy="1976"/></g>
<g id="n98_171"><circle cx="171" cy="1996.3"/></g>
<g id="n99_171"><circle cx="171" cy="2016.5"/></g>
<g id="n100_171"><circle cx="171" cy="2036.8"/></g>
<g id="n77_138"><circle cx="138.7" cy="1570.6"/></g>
<g id="n78_138"><circle cx="138.7" cy="1590.9"/></g>
<g id="n79_138"><circle cx="138.7" cy="1611.2"/></g>
<g id="n80_138"><circle cx="138.7" cy="1631.4"/></g>
<g id="n77_203"><circle cx="203.7" cy="1570.6"/></g>
<g id="n78_203"><circle cx="203.7" cy="1590.9"/></g>
<g id="n83_203"><circle cx="203.7" cy="1692.2"/></g>
<g id="n84_203"><circle cx="203.7" cy="1712.5"/></g>
<g id="n93_203"><circle cx="203.7" cy="1894.9"/></g>
<g id="n94_203"><circle cx="203.7" cy="1915.2"/></g>
<g id="n95_203"><circle cx="203.7" cy="1935.5"/></g>
<g id="n96_203"><circle cx="203.7" cy="1955.7"/></g>
<g id="n95_236"><circle cx="236.3" cy="1935.5"/></g>
<g id="n96_236"><circle cx="236.3" cy="1955.7"/></g>
<g id="n97_236"><circle cx="236.3" cy="1976"/></g>
<g id="n98_236"><circle cx="236.3" cy="1996.3"/></g>
<g id="n99_236"><circle cx="236.3" cy="2016.5"/></g>
<g id="n100_236"><circle cx="236.3" cy="2036.8"/></g>
<g id="n101_236"><circle cx="236.3" cy="2057.1"/></g>
<g id="n102_236"><circle cx="236.3" cy="2077.3"/></g>
<g id="n101_268"><circle cx="268.7" cy="2057.1"/></g>
<g id="n102_268"><circle cx="268.7" cy="2077.3"/></g>
<g id="n103_268"><circle cx="268.7" cy="2097.6"/></g>
<g id="n104_268"><circle cx="268.7" cy="2117.9"/></g>
<g id="n105_268"><circle cx="268.7" cy="2138.1"/></g>
<g id="n106_268"><circle cx="268.7" cy="2158.4"/></g>
<g id="n107_268"><circle cx="268.7" cy="2178.7"/></g>
<g id="n108_268"><circle cx="268.7" cy="2198.9"/></g>
<g id="n109_268"><circle cx="268.7" cy="2219.2"/></g>
<g id="n110_268"><circle cx="268.7" cy="2239.5"/></g>
<g id="n111_268"><circle cx="268.7" cy="2259.7"/></g>
<g id="n112_268"><circle cx="268.7" cy="2280"/></g>
<g id="n113_268"><circle cx="268.7" cy="2300.3"/></g>
<g id="n114_268"><circle cx="268.7" cy="2320.6"/></g>
<g id="n105_301"><circle cx="301.3" cy="2138.1"/></g>
<g id="n106_301"><circle cx="301.3" cy="2158.4"/></g>
<g id="n107_301"><circle cx="301.3" cy="2178.7"/></g>
<g id="n108_301"><circle cx="301.3" cy="2198.9"/></g>
<g id="n109_301"><circle cx="301.3" cy="2219.2"/></g>
<g id="n110_301"><circle cx="301.3" cy="2239.5"/></g>
<g id="n111_301"><circle cx="301.3" cy="2259.7"/></g>
<g id="n112_301"><circle cx="301.3" cy="2280"/></g>
<g id="n113_301"><circle cx="301.3" cy="2300.3"/></g>
<g id="n114_301"><circle cx="301.3" cy="2320.6"/></g>
<g id="n115_301"><circle cx="301.3" cy="2340.8"/></g>
<g id="n116_301"><circle cx="301.3" cy="2361.1"/></g>
<g id="n107_236"><circle cx="236.3" cy="2178.7"/></g>
<g id="n108_236"><circle cx="236.3" cy="2198.9"/></g>
<g id="n109_236"><circle cx="236.3" cy="2219.2"/></g>
<g id="n110_236"><circle cx="236.3" cy="2239.5"/></g>
<g id="n111_236"><circle cx="236.3" cy="2259.7"/></g>
<g id="n112_236"><circle cx="236.3" cy="2280"/></g>
<g id="n113_236"><circle cx="236.3" cy="2300.3"/></g>
<g id="n114_236"><circle cx="236.3" cy="2320.6"/></g>
<g id="n115_236"><circle cx="236.3" cy="2340.8"/></g>
<g id="n116_236"><circle cx="236.3" cy="2361.1"/></g>
<g id="n115_268"><circle cx="268.7" cy="2340.8"/></g>
<g id="n116_268"><circle cx="268.7" cy="2361.1"/></g>
<g id="n117_268"><circle cx="268.7" cy="2381.4"/></g>
<g id="n118_268"><circle cx="268.7" cy="2401.6"/></g>
<g id="n117_301"><circle cx="301.3" cy="2381.4"/></g>
<g id="n118_301"><circle cx="301.3" cy="2401.6"/></g>
<g id="n119_301"><circle cx="301.3" cy="2421.9"/></g>
<g id="n120_301"><circle cx="301.3" cy="2442.2"/></g>
<g id="n121_301"><circle cx="301.3" cy="2462.4"/></g>
<g id="n122_301"><circle cx="301.3" cy="2482.7"/></g>
<g id="n123_301"><circle cx="301.3" cy="2503"/></g>
<g id="n124_301"><circle cx="301.3" cy="2523.2"/></g>
<g id="n125_301"><circle cx="301.3" cy="2543.5"/></g>
<g id="n126_301"><circle cx="301.3" cy="2563.8"/></g>
<g id="n97_138"><circle cx="138.7" cy="1976"/></g>
<g id="n98_138"><circle cx="138.7" cy="1996.3"/></g>
<g id="n99_138"><circle cx="138.7" cy="2016.5"/></g>
<g id="n100_138"><circle cx="138.7" cy="2036.8"/></g>
<g id="n101_138"><circle cx="138.7" cy="2057.1"/></g>
<g id="n102_138"><circle cx="138.7" cy="2077.3"/></g>
<g id="n99_106"><circle cx="106" cy="2016.5"/></g>
<g id="n100_106"><circle cx="106" cy="2036.8"/></g>
<g id="n101_106"><circle cx="106" cy="2057.1"/></g>
<g id="n102_106"><circle cx="106" cy="2077.3"/></g>
<g id="n101_171"><circle cx="171" cy="2057.1"/></g>
<g id="n102_171"><circle cx="171" cy="2077.3"/></g>
<g id="n103_171"><circle cx="171" cy="2097.6"/></g>
<g id="n104_171"><circle cx="171" cy="2117.9"/></g>
<g id="n105_171"><circle cx="171" cy="2138.1"/></g>
<g id="n106_171"><circle cx="171" cy="2158.4"/></g>
<g id="n107_171"><circle cx="171" cy="2178.7"/></g>
<g id="n108_171"><circle cx="171" cy="2198.9"/></g>
<g id="n109_171"><circle cx="171" cy="2219.2"/></g>
<g id="n110_171"><circle cx="171" cy="2239.5"/></g>
<g id="n111_171"><circle cx="171" cy="2259.7"/></g>
<g id="n112_171"><circle cx="171" cy="2280"/></g>
<g id="n113_171"><circle cx="171" cy="2300.3"/></g>
<g id="n114_171"><circle cx="171" cy="2320.6"/></g>
<g id="n115_171"><circle cx="171" cy="2340.8"/></g>
<g id="n116_171"><circle cx="171" cy="2361.1"/></g>
<g id="n117_171"><circle cx="171" cy="2381.4"/></g>
<g id="n118_171"><circle cx="171" cy="2401.6"/></g>
<g id="n105_138"><circle cx="138.7" cy="2138.1"/></g>
<g id="n106_138"><circle cx="138.7" cy="2158.4"/></g>
<g id="n107_138"><circle cx="138.7" cy="2178.7"/></g>
<g id="n108_138"><circle cx="138.7" cy="2198.9"/></g>
<g id="n107_106"><circle cx="106" cy="2178.7"/></g>
<g id="n108_106"><circle cx="106" cy="2198.9"/></g>
<g id="n107_203"><circle cx="203.7" cy="2178.7"/></g>
<g id="n108_203"><circle cx="203.7" cy="2198.9"/></g>
<g id="n109_138"><circle cx="138.7" cy="2219.2"/></g>
<g id="n110_138"><circle cx="138.7" cy="2239.5"/></g>
<g id="n111_138"><circle cx="138.7" cy="2259.7"/></g>
<g id="n112_138"><circle cx="138.7" cy="2280"/></g>
<g id="n113_138"><circle cx="138.7" cy="2300.3"/></g>
<g id="n114_134"><circle cx="134.7" cy="2320.6"/></g>
<g id="n115_134"><circle cx="134.7" cy="2340.8"/></g>
<g id="n116_134"><circle cx="134.7" cy="2361.1"/></g>
<g id="n115_86"><circle cx="86.3" cy="2340.8"/></g>
<g id="n116_81"><circle cx="81.3" cy="2361.1"/></g>
<g id="n117_73"><circle cx="73.3" cy="2381.4"/></g>
<g id="n118_73"><circle cx="73.3" cy="2401.6"/></g>
<g id="n117_106"><circle cx="106" cy="2381.4"/></g>
<g id="n118_106"><circle cx="106" cy="2401.6"/></g>
<g id="n117_138"><circle cx="138.7" cy="2381.4"/></g>
<g id="n118_138"><circle cx="138.7" cy="2401.6"/></g>
<g id="n119_138"><circle cx="138.7" cy="2421.9"/></g>
<g id="n120_138"><circle cx="138.7" cy="2442.2"/></g>
<g id="n115_203"><circle cx="203.7" cy="2340.8"/></g>
<g id="n116_203"><circle cx="203.7" cy="2361.1"/></g>
<g id="n117_203"><circle cx="203.7" cy="2381.4"/></g>
<g id="n118_203"><circle cx="203.7" cy="2401.6"/></g>
<g id="n119_203"><circle cx="203.7" cy="2421.9"/></g>
<g id="n120_203"><circle cx="203.7" cy="2442.2"/></g>
<g id="n117_236"><circle cx="236.3" cy="2381.4"/></g>
<g id="n118_236"><circle cx="236.3" cy="2401.6"/></g>
<g id="n119_236"><circle cx="236.3" cy="2421.9"/></g>
<g id="n120_236"><circle cx="236.3" cy="2442.2"/></g>
<g id="n121_236"><circle cx="236.3" cy="2462.4"/></g>
<g id="n122_236"><circle cx="236.3" cy="2482.7"/></g>
<g id="n123_236"><circle cx="236.3" cy="2503"/></g>
<g id="n124_236"><circle cx="236.3" cy="2523.2"/></g>
<g id="n125_236"><circle cx="236.3" cy="2543.5"/></g>
<g id="n126_236"><circle cx="236.3" cy="2563.8"/></g>
<g id="n127_236"><circle cx="236.3" cy="2584"/></g>
<g id="n128_236"><circle cx="236.3" cy="2604.3"/></g>
<g id="n129_236"><circle cx="236.3" cy="2624.6"/></g>
<g id="n130_236"><circle cx="236.3" cy="2644.8"/></g>
<g id="n131_236"><circle cx="236.3" cy="2665.1"/></g>
<g id="n132_236"><circle cx="236.3" cy="2685.4"/></g>
<g id="n133_236"><circle cx="236.3" cy="2705.6"/></g>
<g id="n134_236"><circle cx="236.3" cy="2725.9"/></g>
<g id="n119_268"><circle cx="268.7" cy="2421.9"/></g>
<g id="n120_268"><circle cx="268.7" cy="2442.2"/></g>
<g id="n121_203"><circle cx="203.7" cy="2462.4"/></g>
<g id="n122_203"><circle cx="203.7" cy="2482.7"/></g>
<g id="n123_203"><circle cx="203.7" cy="2503"/></g>
<g id="n124_203"><circle cx="203.7" cy="2523.2"/></g>
<g id="n125_203"><circle cx="203.7" cy="2543.5"/></g>
<g id="n126_203"><circle cx="203.7" cy="2563.8"/></g>
<g id="n127_203"><circle cx="203.7" cy="2584"/></g>
<g id="n128_203"><circle cx="203.7" cy="2604.3"/></g>
<g id="n129_203"><circle cx="203.7" cy="2624.6"/></g>
<g id="n130_203"><circle cx="203.7" cy="2644.8"/></g>
<g id="n131_203"><circle cx="203.7" cy="2665.1"/></g>
<g id="n132_203"><circle cx="203.7" cy="2685.4"/></g>
<g id="n127_268"><circle cx="268.7" cy="2584"/></g>
<g id="n128_268"><circle cx="268.7" cy="2604.3"/></g>
<g id="n129_268"><circle cx="268.7" cy="2624.6"/></g>
<g id="n130_268"><circle cx="268.7" cy="2644.8"/></g>
<g id="n131_268"><circle cx="268.7" cy="2665.1"/></g>
<g id="n132_268"><circle cx="268.7" cy="2685.4"/></g>
<g id="n125_171"><circle cx="171" cy="2543.5"/></g>
<g id="n126_171"><circle cx="171" cy="2563.8"/></g>
<g id="n127_171"><circle cx="171" cy="2584"/></g>
<g id="n128_171"><circle cx="171" cy="2604.3"/></g>
<g id="n129_171"><circle cx="171" cy="2624.6"/></g>
<g id="n130_171"><circle cx="171" cy="2644.8"/></g>
<g id="n131_171"><circle cx="171" cy="2665.1"/></g>
<g id="n132_171"><circle cx="171" cy="2685.4"/></g>
<g id="n133_171"><circle cx="171" cy="2705.6"/></g>
<g id="n134_171"><circle cx="171" cy="2725.9"/></g>
<g id="n135_171"><circle cx="171" cy="2746.2"/></g>
<g id="n136_171"><circle cx="171" cy="2766.4"/></g>
<g id="n137_171"><circle cx="171" cy="2786.7"/></g>
<g id="n138_171"><circle cx="171" cy="2807"/></g>
<g id="n139_171"><circle cx="171" cy="2827.3"/></g>
<g id="n140_171"><circle cx="171" cy="2847.5"/></g>
<g id="n141_171"><circle cx="171" cy="2867.8"/></g>
<g id="n142_171"><circle cx="171" cy="2888.1"/></g>
<g id="n127_138"><circle cx="138.7" cy="2584"/></g>
<g id="n128_138"><circle cx="138.7" cy="2604.3"/></g>
<g id="n129_138"><circle cx="138.7" cy="2624.6"/></g>
<g id="n130_138"><circle cx="138.7" cy="2644.8"/></g>
<g id="n129_106"><circle cx="106" cy="2624.6"/></g>
<g id="n130_106"><circle cx="106" cy="2644.8"/></g>
<g id="n131_106"><circle cx="106" cy="2665.1"/></g>
<g id="n132_106"><circle cx="106" cy="2685.4"/></g>
<g id="n133_106"><circle cx="106" cy="2705.6"/></g>
<g id="n134_106"><circle cx="106" cy="2725.9"/></g>
<g id="n135_106"><circle cx="106" cy="2746.2"/></g>
<g id="n136_106"><circle cx="106" cy="2766.4"/></g>
<g id="n135_73"><circle cx="73.3" cy="2746.2"/></g>
<g id="n136_73"><circle cx="73.3" cy="2766.4"/></g>
<g id="n137_73"><circle cx="73.3" cy="2786.7"/></g>
<g id="n138_73"><circle cx="73.3" cy="2807"/></g>
<g id="n139_73"><circle cx="73.3" cy="2827.3"/></g>
<g id="n140_73"><circle cx="73.3" cy="2847.5"/></g>
<g id="n137_41"><circle cx="41" cy="2786.7"/></g>
<g id="n138_41"><circle cx="41" cy="2807"/></g>
<g id="n139_41"><circle cx="41" cy="2827.3"/></g>
<g id="n140_41"><circle cx="41" cy="2847.5"/></g>
<g id="n141_41"><circle cx="41" cy="2867.8"/></g>
<g id="n142_41"><circle cx="41" cy="2888.1"/></g>
<g id="n143_41"><circle cx="41" cy="2908.3"/></g>
<g id="n144_41"><circle cx="41" cy="2928.6"/></g>
<g id="n145_41"><circle cx="41" cy="2948.9"/></g>
<g id="n146_41"><circle cx="41" cy="2969.1"/></g>
<g id="n147_41"><circle cx="41" cy="2989.4"/></g>
<g id="n148_41"><circle cx="41" cy="3009.7"/></g>
<g id="n149_25"><circle cx="25.7" cy="3029.9"/></g>
<g id="n150_25"><circle cx="25.7" cy="3050.2"/></g>
<g id="n151_25"><circle cx="25.7" cy="3070.5"/></g>
<g id="n152_25"><circle cx="25.7" cy="3090.7"/></g>
<g id="n149_58"><circle cx="58" cy="3029.9"/></g>
<g id="n150_58"><circle cx="58" cy="3050.2"/></g>
<g id="n151_58"><circle cx="58" cy="3070.5"/></g>
<g id="n152_58"><circle cx="58" cy="3090.7"/></g>
<g id="n153_58"><circle cx="58" cy="3111"/></g>
<g id="n154_58"><circle cx="58" cy="3131.3"/></g>
<g id="n155_58"><circle cx="58" cy="3151.5"/></g>
<g id="n156_58"><circle cx="58" cy="3171.8"/></g>
<g id="n157_75"><circle cx="75" cy="3192.1"/></g>
<g id="n158_75"><circle cx="75" cy="3212.3"/></g>
<g id="n159_75"><circle cx="75" cy="3232.6"/></g>
<g id="n160_75"><circle cx="75" cy="3252.9"/></g>
<g id="n157_42"><circle cx="42.3" cy="3192.1"/></g>
<g id="n158_42"><circle cx="42.3" cy="3212.3"/></g>
<g id="n159_42"><circle cx="42.3" cy="3232.6"/></g>
<g id="n160_42"><circle cx="42.3" cy="3252.9"/></g>
<g id="n161_42"><circle cx="42.3" cy="3273.1"/></g>
<g id="n162_42"><circle cx="42.3" cy="3293.4"/></g>
<g id="n163_42"><circle cx="42.3" cy="3313.7"/></g>
<g id="n164_42"><circle cx="42.3" cy="3334"/></g>
<g id="n159_10"><circle cx="10" cy="3232.6"/></g>
<g id="n160_10"><circle cx="10" cy="3252.9"/></g>
<g id="n165_26"><circle cx="26.7" cy="3354.2"/></g>
<g id="n166_26"><circle cx="26.7" cy="3374.5"/></g>
<g id="n165_59"><circle cx="59" cy="3354.2"/></g>
<g id="n166_59"><circle cx="59" cy="3374.5"/></g>
<g id="n167_59"><circle cx="59" cy="3394.8"/></g>
<g id="n168_59"><circle cx="59" cy="3415"/></g>
<g id="n169_59"><circle cx="59" cy="3435.3"/></g>
<g id="n170_59"><circle cx="59" cy="3455.6"/></g>
<g id="n135_138"><circle cx="138.7" cy="2746.2"/></g>
<g id="n136_138"><circle cx="138.7" cy="2766.4"/></g>
<g id="n137_138"><circle cx="138.7" cy="2786.7"/></g>
<g id="n138_138"><circle cx="138.7" cy="2807"/></g>
<g id="n137_106"><circle cx="106" cy="2786.7"/></g>
<g id="n138_106"><circle cx="106" cy="2807"/></g>
<g id="n139_106"><circle cx="106" cy="2827.3"/></g>
<g id="n140_106"><circle cx="106" cy="2847.5"/></g>
<g id="n141_106"><circle cx="106" cy="2867.8"/></g>
<g id="n142_106"><circle cx="106" cy="2888.1"/></g>
<g id="n143_106"><circle cx="106" cy="2908.3"/></g>
<g id="n144_106"><circle cx="106" cy="2928.6"/></g>
<g id="n145_106"><circle cx="106" cy="2948.9"/></g>
<g id="n146_106"><circle cx="106" cy="2969.1"/></g>
<g id="n139_138"><circle cx="138.7" cy="2827.3"/></g>
<g id="n140_138"><circle cx="138.7" cy="2847.5"/></g>
<g id="n141_138"><circle cx="138.7" cy="2867.8"/></g>
<g id="n142_138"><circle cx="138.7" cy="2888.1"/></g>
<g id="n143_138"><circle cx="138.7" cy="2908.3"/></g>
<g id="n144_138"><circle cx="138.7" cy="2928.6"/></g>
<g id="n139_203"><circle cx="203.7" cy="2827.3"/></g>
<g id="n140_203"><circle cx="203.7" cy="2847.5"/></g>
<g id="n141_203"><circle cx="203.7" cy="2867.8"/></g>
<g id="n142_203"><circle cx="203.7" cy="2888.1"/></g>
<g id="n143_203"><circle cx="203.7" cy="2908.3"/></g>
<g id="n144_203"><circle cx="203.7" cy="2928.6"/></g>
<g id="n145_203"><circle cx="203.7" cy="2948.9"/></g>
<g id="n146_203"><circle cx="203.7" cy="2969.1"/></g>
<g id="n147_203"><circle cx="203.7" cy="2989.4"/></g>
<g id="n148_203"><circle cx="203.7" cy="3009.7"/></g>
<g id="n149_203"><circle cx="203.7" cy="3029.9"/></g>
<g id="n150_203"><circle cx="203.7" cy="3050.2"/></g>
<g id="n151_179"><circle cx="179" cy="3070.5"/></g>
<g id="n152_179"><circle cx="179" cy="3090.7"/></g>
<g id="n153_179"><circle cx="179" cy="3111"/></g>
<g id="n154_179"><circle cx="179" cy="3131.3"/></g>
<g id="n155_179"><circle cx="179" cy="3151.5"/></g>
<g id="n156_179"><circle cx="179" cy="3171.8"/></g>
<g id="n153_146"><circle cx="146.7" cy="3111"/></g>
<g id="n154_146"><circle cx="146.7" cy="3131.3"/></g>
<g id="n151_211"><circle cx="211.7" cy="3070.5"/></g>
<g id="n152_211"><circle cx="211.7" cy="3090.7"/></g>
<g id="n153_211"><circle cx="211.7" cy="3111"/></g>
<g id="n154_211"><circle cx="211.7" cy="3131.3"/></g>
<g id="n155_211"><circle cx="211.7" cy="3151.5"/></g>
<g id="n156_211"><circle cx="211.7" cy="3171.8"/></g>
<g id="n157_211"><circle cx="211.7" cy="3192.1"/></g>
<g id="n158_211"><circle cx="211.7" cy="3212.3"/></g>
<g id="n159_213"><circle cx="213" cy="3232.6"/></g>
<g id="n160_213"><circle cx="213" cy="3252.9"/></g>
<g id="n161_213"><circle cx="213" cy="3273.1"/></g>
<g id="n162_213"><circle cx="213" cy="3293.4"/></g>
<g id="n159_180"><circle cx="180.3" cy="3232.6"/></g>
<g id="n160_180"><circle cx="180.3" cy="3252.9"/></g>
<g id="n161_180"><circle cx="180.3" cy="3273.1"/></g>
<g id="n162_180"><circle cx="180.3" cy="3293.4"/></g>
<g id="n163_180"><circle cx="180.3" cy="3313.7"/></g>
<g id="n164_180"><circle cx="180.3" cy="3334"/></g>
<g id="n165_180"><circle cx="180.3" cy="3354.2"/></g>
<g id="n166_180"><circle cx="180.3" cy="3374.5"/></g>
<g id="n167_180"><circle cx="180.3" cy="3394.8"/></g>
<g id="n168_180"><circle cx="180.3" cy="3415"/></g>
<g id="n169_180"><circle cx="180.3" cy="3435.3"/></g>
<g id="n170_180"><circle cx="180.3" cy="3455.6"/></g>
<g id="n171_180"><circle cx="180.3" cy="3475.8"/></g>
<g id="n172_180"><circle cx="180.3" cy="3496.1"/></g>
<g id="n173_180"><circle cx="180.3" cy="3516.4"/></g>
<g id="n174_180"><circle cx="180.3" cy="3536.6"/></g>
<g id="n175_180"><circle cx="180.3" cy="3556.9"/></g>
<g id="n176_180"><circle cx="180.3" cy="3577.2"/></g>
<g id="n177_180"><circle cx="180.3" cy="3597.4"/></g>
<g id="n178_180"><circle cx="180.3" cy="3617.7"/></g>
<g id="n173_213"><circle cx="213" cy="3516.4"/></g>
<g id="n174_213"><circle cx="213" cy="3536.6"/></g>
<g id="n173_147"><circle cx="147.7" cy="3516.4"/></g>
<g id="n174_147"><circle cx="147.7" cy="3536.6"/></g>
<g id="n175_147"><circle cx="147.7" cy="3556.9"/></g>
<g id="n176_147"><circle cx="147.7" cy="3577.2"/></g>
<g id="n175_115"><circle cx="115" cy="3556.9"/></g>
<g id="n176_115"><circle cx="115" cy="3577.2"/></g>
<g id="n179_165"><circle cx="165" cy="3638"/></g>
<g id="n180_165"><circle cx="165" cy="3658.2"/></g>
<g id="n179_197"><circle cx="197.3" cy="3638"/></g>
<g id="n180_197"><circle cx="197.3" cy="3658.2"/></g>
<g id="n181_197"><circle cx="197.3" cy="3678.5"/></g>
<g id="n182_197"><circle cx="197.3" cy="3698.8"/></g>
<g id="n183_197"><circle cx="197.3" cy="3719"/></g>
<g id="n184_197"><circle cx="197.3" cy="3739.3"/></g>
<g id="n185_214"><circle cx="214.3" cy="3759.6"/></g>
<g id="n186_214"><circle cx="214.3" cy="3779.8"/></g>
<g id="n185_181"><circle cx="181.7" cy="3759.6"/></g>
<g id="n186_181"><circle cx="181.7" cy="3779.8"/></g>
<g id="n187_181"><circle cx="181.7" cy="3800.1"/></g>
<g id="n188_181"><circle cx="181.7" cy="3820.4"/></g>
<g id="n189_181"><circle cx="181.7" cy="3840.7"/></g>
<g id="n190_181"><circle cx="181.7" cy="3860.9"/></g>
</g>
</svg>
